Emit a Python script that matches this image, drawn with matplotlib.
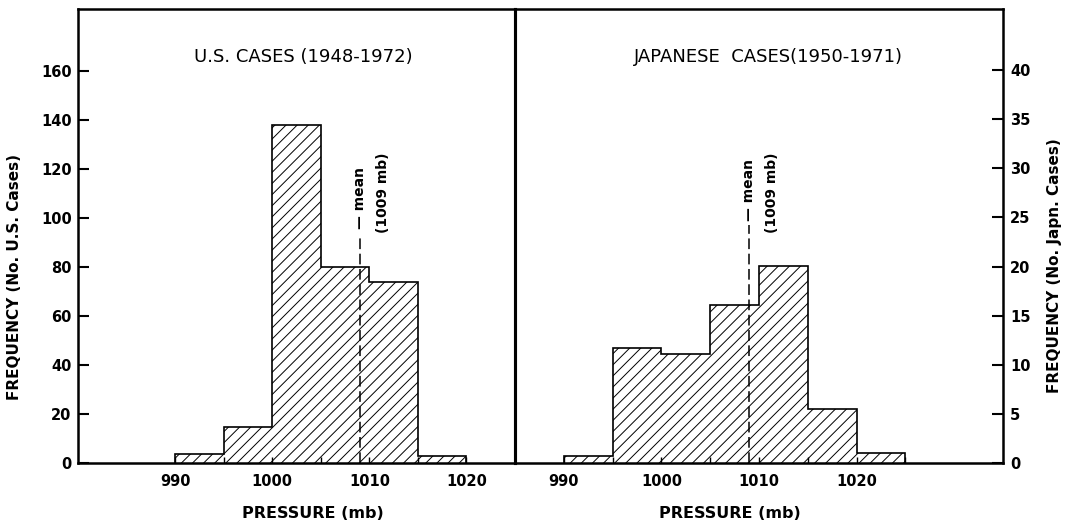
import matplotlib.pyplot as plt
import numpy as np

# histogram bins (mb) and counts
us_edges = [990, 995, 1000, 1005, 1010, 1015, 1020]
us_counts = [4, 15, 138, 80, 74, 3]
jp_edges = [990, 995, 1000, 1005, 1010, 1015, 1020, 1025]
jp_counts = [0.7, 11.7, 11.1, 16.1, 20.1, 5.5, 1.0]
mean_pressure = 1009
x_ticks = [990, 1000, 1010, 1020]
us_yticks = list(range(0, 161, 20))
jp_yticks = list(range(0, 41, 5))

plt.rcParams['font.family'] = 'DejaVu Sans'
plt.rcParams['font.weight'] = 'bold'
plt.rcParams['hatch.linewidth'] = 0.7

W, H = 1069, 526
fig = plt.figure(figsize=(W / 100, H / 100), dpi=100)

def fx(px):
    return px / W

def fy(py):
    return 1 - py / H

ax1 = fig.add_axes([fx(78), fy(463.3), fx(515) - fx(78), fy(9) - fy(463.3)])
ax2 = fig.add_axes([fx(515), fy(463.3), fx(1003) - fx(515), fy(9) - fy(463.3)])
ax2.patch.set_visible(False)

def draw_hist(ax, edges, counts, line_top):
    ax.stairs(counts, edges, fill=True, hatch='///', facecolor='none',
              edgecolor='black', linewidth=0)
    ax.stairs(counts, edges, baseline=0, color='black', linewidth=1.2)
    ax.plot([mean_pressure, mean_pressure], [0, line_top], color='black',
            linewidth=1.1, linestyle=(0, (7, 3)))
    for sp in ax.spines.values():
        sp.set_linewidth(1.8)
    ax.set_xticks(x_ticks)
    ax.set_xticks(np.arange(995, 1030, 10), minor=True)
    ax.tick_params(axis='x', which='both', direction='in', length=4, width=1,
                   pad=8, labelsize=10.5)

# U.S. panel
draw_hist(ax1, us_edges, us_counts, 93)
ax1.set_xlim(980, 1025)
ax1.set_ylim(0, 185.5)
ax1.set_yticks(us_yticks)
ax1.tick_params(axis='y', direction='in', length=8, width=1.5, pad=4.5,
                labelsize=10.5)
ax1.spines['right'].set_linewidth(2.2)
ax1.text(mean_pressure, 95.5, '— mean', rotation=90, ha='center', va='bottom',
         fontsize=10)
ax1.text(1011.4, 94, '(1009 mb)', rotation=90, ha='center', va='bottom',
         fontsize=10)

# Japanese panel
draw_hist(ax2, jp_edges, jp_counts, 24.2)
ax2.set_xlim(985, 1035)
ax2.set_ylim(0, 46.2)
ax2.set_yticks(jp_yticks)
ax2.yaxis.tick_right()
ax2.tick_params(axis='y', direction='in', length=8, width=1.5, pad=5,
                labelsize=10.5)
ax2.spines['left'].set_linewidth(2.2)
ax2.text(mean_pressure, 24.6, '— mean', rotation=90, ha='center', va='bottom',
         fontsize=10)
ax2.text(1011.3, 23.4, '(1009 mb)', rotation=90, ha='center', va='bottom',
         fontsize=10)

# titles inside panels
fig.text(fx(303), fy(57.5), 'U.S. CASES (1948-1972)', ha='center', va='center',
         fontsize=13, fontweight='normal')
fig.text(fx(768), fy(57.5), 'JAPANESE  CASES(1950-1971)', ha='center',
         va='center', fontsize=13, fontweight='normal')

# axis labels
fig.text(fx(15), fy(277), 'FREQUENCY (No. U.S. Cases)', rotation=90,
         ha='center', va='center', fontsize=11)
fig.text(fx(1054), fy(266), 'FREQUENCY (No. Japn. Cases)', rotation=90,
         ha='center', va='center', fontsize=11)
fig.text(fx(313), fy(513), 'PRESSURE (mb)', ha='center', va='center',
         fontsize=11.5)
fig.text(fx(730), fy(513), 'PRESSURE (mb)', ha='center', va='center',
         fontsize=11.5)

plt.savefig('out.png', dpi=100)
